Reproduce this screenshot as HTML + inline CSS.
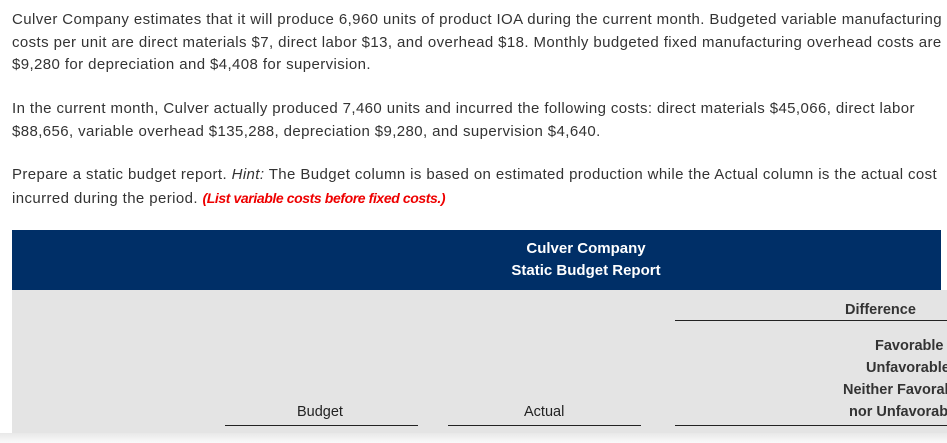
<!DOCTYPE html>
<html><head><meta charset="utf-8"><style>
body{margin:0;width:947px;height:443px;overflow:hidden;background:#fff;font-family:"Liberation Sans",sans-serif;color:#333;position:relative}
.p{position:absolute;left:12px;font-size:15px;line-height:22.5px;width:1200px;white-space:nowrap;letter-spacing:0.4px}
.red{color:#e00;font-weight:bold;font-style:italic;font-size:14px;letter-spacing:-0.4px}
#hdr{position:absolute;left:12px;top:230px;width:929px;height:60px;background:#002f67;color:#fff;font-weight:bold;font-size:15px;line-height:22px}
#grey{position:absolute;left:12px;top:290px;width:935px;height:143px;background:#e4e4e4;overflow:hidden}
.b{position:absolute;font-weight:bold;font-size:14.5px;color:#333;white-space:nowrap}
.ln{position:absolute;height:1px;background:#222}
#bot{position:absolute;left:0;top:433px;width:947px;height:10px;background:linear-gradient(#e8e8e8,#fafafa)}
</style></head><body>
<div class="p" style="top:9px">Culver Company estimates that it will produce 6,960 units of product IOA during the current month. Budgeted variable manufacturing<br>costs per unit are direct materials $7, direct labor $13, and overhead $18. Monthly budgeted fixed manufacturing overhead costs are<br>$9,280 for depreciation and $4,408 for supervision.</div>
<div class="p" style="top:98px">In the current month, Culver actually produced 7,460 units and incurred the following costs: direct materials $45,066, direct labor<br>$88,656, variable overhead $135,288, depreciation $9,280, and supervision $4,640.</div>
<div class="p" style="top:164px">Prepare a static budget report. <i>Hint:</i> The Budget column is based on estimated production while the Actual column is the actual cost<br>incurred during the period. <span class="red">(List variable costs before fixed costs.)</span></div>
<div id="hdr"><div style="position:absolute;left:474px;width:200px;top:8px;text-align:center">Culver Company<br>Static Budget Report</div></div>
<div id="grey">
<div class="b" style="left:833px;top:12px">Difference</div>
<div class="ln" style="left:663px;top:30px;width:280px"></div>
<div class="b" style="left:863px;top:48px">Favorable</div>
<div class="b" style="left:854px;top:70px">Unfavorable</div>
<div class="b" style="left:831px;top:92px">Neither Favorable</div>
<div class="b" style="left:837px;top:114px">nor Unfavorable</div>
<div class="b" style="left:285px;top:114px;font-weight:normal;color:#222">Budget</div>
<div class="b" style="left:512px;top:114px;font-weight:normal;color:#222">Actual</div>
<div class="ln" style="left:213px;top:135px;width:193px"></div>
<div class="ln" style="left:436px;top:135px;width:193px"></div>
<div class="ln" style="left:663px;top:135px;width:280px"></div>
</div>
<div id="bot"></div>
</body></html>
